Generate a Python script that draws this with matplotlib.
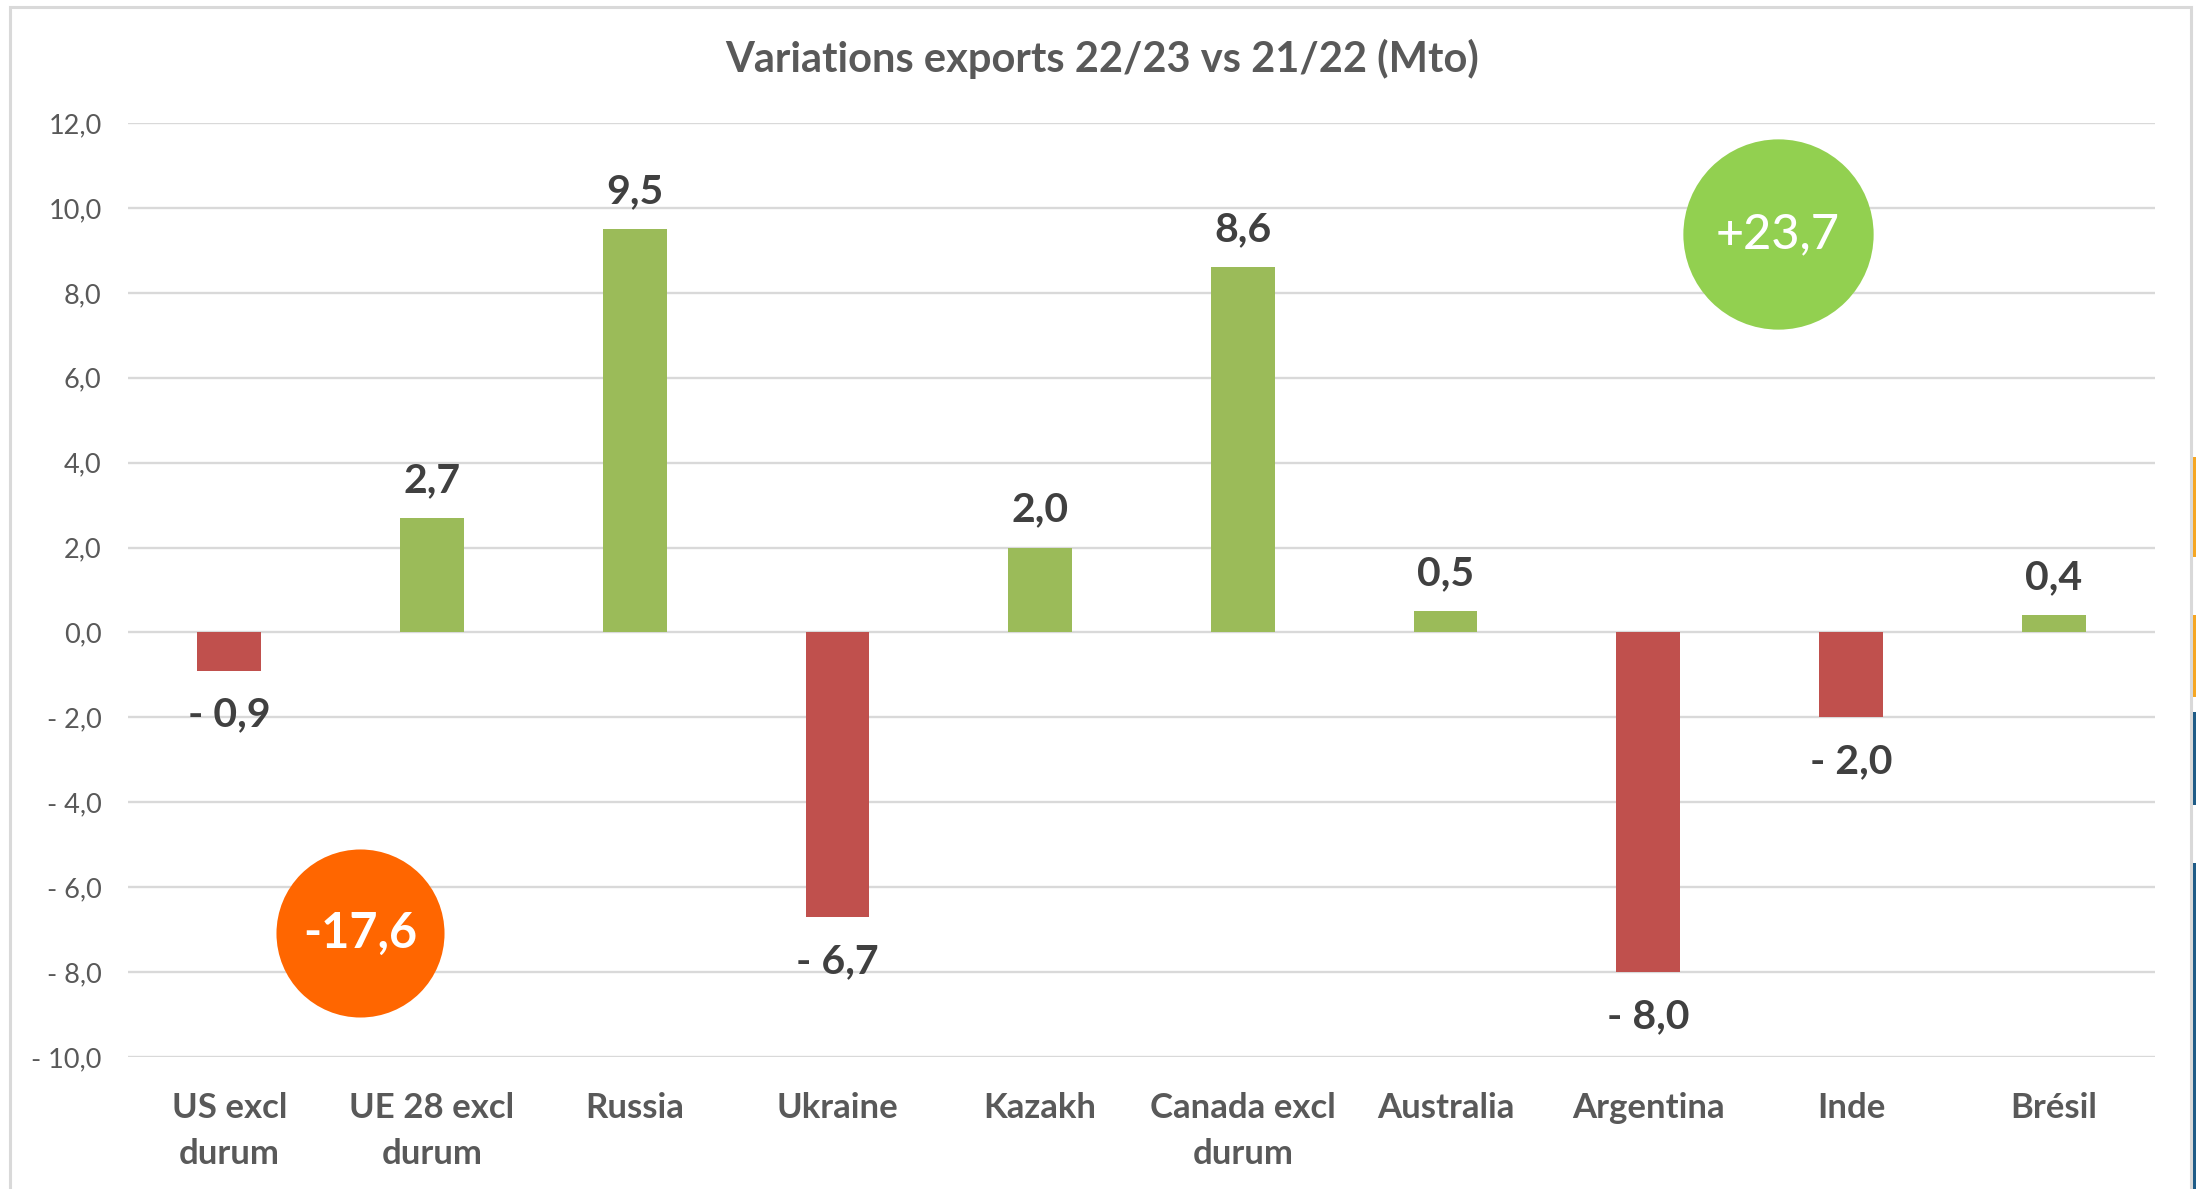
import matplotlib.pyplot as plt
from matplotlib.patches import Rectangle

# data
categories = ["US excl\ndurum", "UE 28 excl\ndurum", "Russia", "Ukraine", "Kazakh",
              "Canada excl\ndurum", "Australia", "Argentina", "Inde", "Brésil"]
variations = [-0.9, 2.7, 9.5, -6.7, 2.0, 8.6, 0.5, -8.0, -2.0, 0.4]

y_ticks = [-10, -8, -6, -4, -2, 0, 2, 4, 6, 8, 10, 12]

total_down = "-17,6"
total_up = "+23,7"

GREEN = "#9BBB59"
RED = "#C0504D"
GRID = "#D9D9D9"
TEXT = "#595959"
LABEL = "#404040"

plt.rcParams["font.family"] = ["Lato", "DejaVu Sans"]


def fmt(v):
    s = f"{abs(v):.1f}".replace(".", ",")
    return "- " + s if v < 0 else s


fig = plt.figure(figsize=(21.96, 11.89), dpi=100)

# outer frame of the chart
fig.patches.append(Rectangle((10 / 2196, -0.01), 2181 / 2196, 1.01 - 7 / 1189,
                             transform=fig.transFigure, fill=False,
                             edgecolor=GRID, linewidth=2.2))

# bits of the neighbouring slide at the right edge
for y0, y1, c in [(457, 557, "#F5A623"), (615, 697, "#F5A623"),
                  (712, 805, "#1F5C87"), (863, 1189, "#1F5C87")]:
    fig.patches.append(Rectangle((2193 / 2196, 1 - y1 / 1189), 3 / 2196,
                                 (y1 - y0) / 1189, transform=fig.transFigure,
                                 color=c, linewidth=0))

ax = fig.add_axes([128 / 2196, 1 - 1057 / 1189, 2027 / 2196, 934 / 1189])

x = list(range(len(categories)))
colors = [GREEN if v >= 0 else RED for v in variations]

ax.bar(x, variations, width=0.315, color=colors, zorder=3)

for xi, v in zip(x, variations):
    off = 27 if v >= 0 else -32
    ax.annotate(fmt(v), (xi, v), xytext=(0, off), textcoords="offset points",
                ha="center", va="center", fontsize=29.5, fontweight="bold",
                color=LABEL)

ax.set_xlim(-0.5, len(categories) - 0.5)
ax.set_ylim(-10, 12)

ax.set_yticks(y_ticks)
ax.set_yticklabels([fmt(t) for t in y_ticks], fontsize=19.5, color=TEXT)
ax.yaxis.grid(True, color=GRID, linewidth=1.7, zorder=0)
ax.set_axisbelow(True)

ax.set_xticks(x)
ax.set_xticklabels(categories, fontsize=25, fontweight="bold", color=TEXT,
                   linespacing=1.55)

ax.tick_params(axis="both", length=0)
ax.tick_params(axis="y", pad=19)
ax.tick_params(axis="x", pad=25)

for s in ax.spines.values():
    s.set_visible(False)

# totals bubbles
ax.scatter([7.64], [9.38], s=137 ** 2, color="#92D050", zorder=4, linewidths=0)
ax.text(7.64, 9.38, total_up, ha="center", va="center", fontsize=35,
        fontweight="medium", color="white", zorder=5)

ax.scatter([0.645], [-7.09], s=121 ** 2, color="#FF6600", zorder=4, linewidths=0)
ax.text(0.645, -7.09, total_down, ha="center", va="center", fontsize=35,
        fontweight="bold", color="white", zorder=5)

fig.text(1102 / 2196, 1 - 59 / 1189, "Variations exports 22/23 vs 21/22 (Mto)",
         ha="center", va="center", fontsize=30, fontweight="bold", color=TEXT)

fig.savefig("out.png", dpi=100)
